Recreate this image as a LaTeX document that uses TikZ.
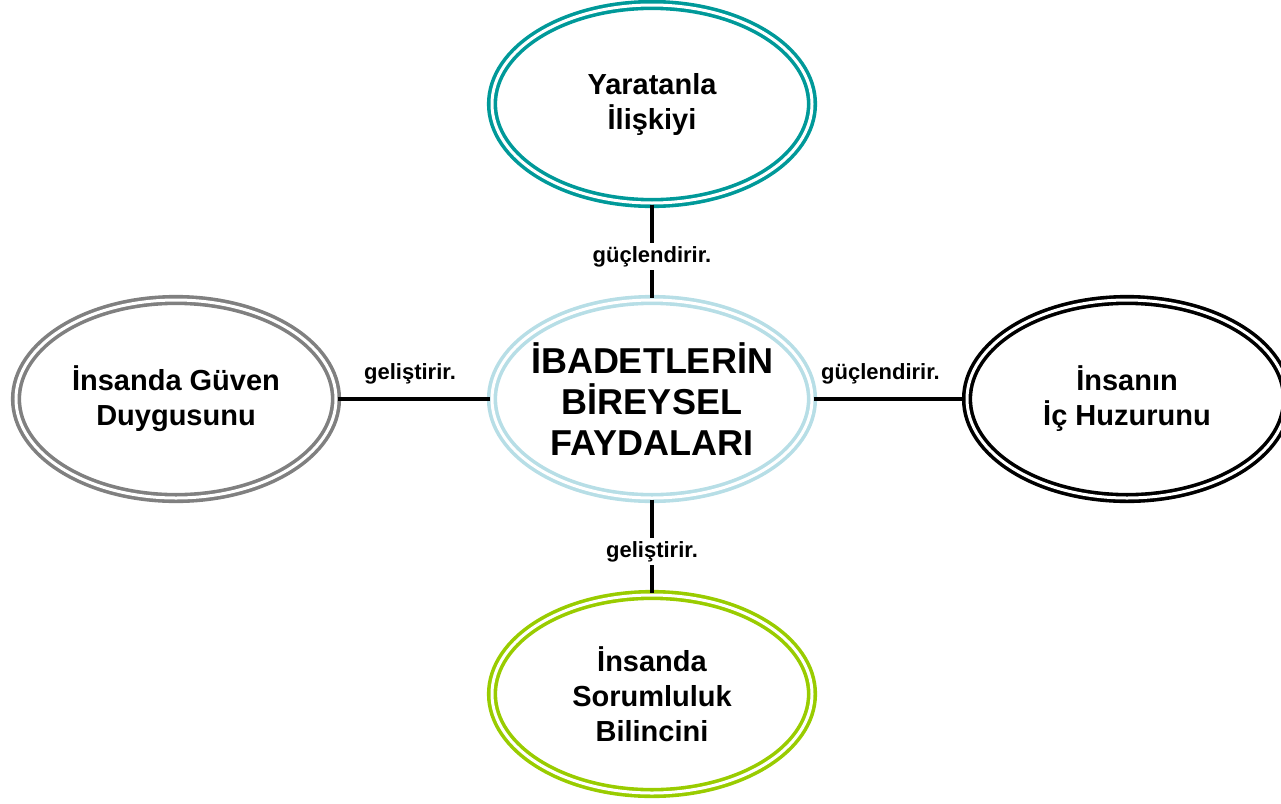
\documentclass[tikz,border=0pt]{standalone}
\usepackage{fontspec}
\setmainfont{Liberation Sans}
\usetikzlibrary{shapes.geometric}
\definecolor{ovalteal}{RGB}{0,153,153}
\definecolor{ovalsky}{RGB}{183,222,230}
\definecolor{ovalgray}{RGB}{128,128,128}
\definecolor{ovalgreen}{RGB}{153,204,0}
\begin{document}
\begin{tikzpicture}[x=1pt,y=-1pt,
    oval/.style={ellipse, draw=#1, double=white, double distance=3pt, line width=3.6pt,
      minimum width=320pt, minimum height=198pt, inner sep=0pt, align=center,
      font=\fontsize{29}{35}\selectfont\bfseries},
    link/.style={line width=4.5pt},
    verb/.style={font=\fontsize{22}{24}\selectfont\bfseries, inner sep=3pt}]
      \useasboundingbox (0,0) rectangle (1281,803);
      \node[oval=ovalsky, inner sep=-20pt, font=\fontsize{36}{41}\selectfont\bfseries] (hub) at (652,399) {İBADETLERİN\\BİREYSEL\\FAYDALARI};
      \node[oval=ovalteal] (relation) at (652,104) {Yaratanla\\İlişkiyi};
      \node[oval=ovalgray] (trust) at (176,399) {İnsanda Güven\\Duygusunu};
      \node[oval=black] (peace) at (1127,399) {İnsanın\\İç Huzurunu};
      \node[oval=ovalgreen] (duty) at (652,694) {İnsanda\\Sorumluluk\\Bilincini};
      \draw[link] (relation) -- node[verb, fill=white, yshift=-5pt] {güçlendirir.} (hub);
      \draw[link] (hub) -- node[verb, fill=white, yshift=-5pt] {geliştirir.} (duty);
      \draw[link] (trust) -- node[verb, above=10pt, xshift=-4pt] {geliştirir.} (hub);
      \draw[link] (hub) -- node[verb, above=10pt, xshift=-9pt] {güçlendirir.} (peace);
\end{tikzpicture}
\end{document}
